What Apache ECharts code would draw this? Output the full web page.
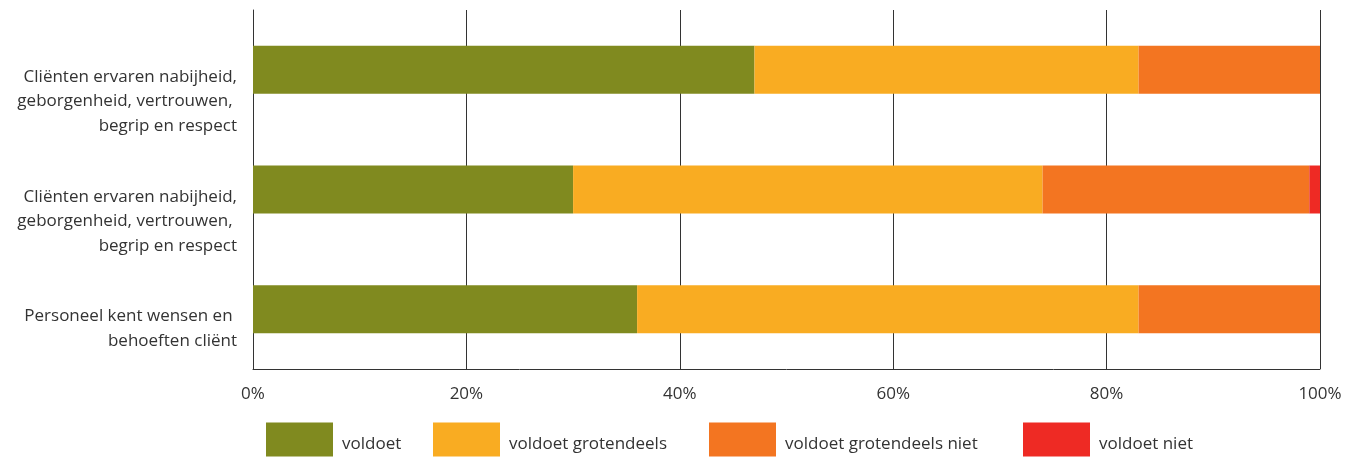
<!DOCTYPE html>
<html>
<head>
<meta charset="utf-8">
<script src="https://cdn.jsdelivr.net/npm/echarts@6/dist/echarts.min.js"></script>
<style>
html,body{margin:0;padding:0;background:#fff;}
#chart{width:1359px;height:457px;}
</style>
</head>
<body>
<div id="chart"></div>
<script>
const categories = [
  'Cliënten ervaren nabijheid,\ngeborgenheid, vertrouwen, \nbegrip en respect',
  'Cliënten ervaren nabijheid,\ngeborgenheid, vertrouwen, \nbegrip en respect',
  'Personeel kent wensen en \nbehoeften cliënt'
];
const seriesNames = ['voldoet', 'voldoet grotendeels', 'voldoet grotendeels niet', 'voldoet niet'];
const voldoet = [47, 30, 36];
const grotendeels = [36, 44, 47];
const grotendeelsNiet = [17, 25, 17];
const niet = [0, 1, 0];
const colors = ['#808a1f', '#f9ac22', '#f37521', '#ee2a24'];
const xTicks = [0, 20, 40, 60, 80, 100];

const values = [voldoet, grotendeels, grotendeelsNiet, niet];
const legendLeft = [266, 433, 709, 1023];
const font = '"Open Sans", sans-serif';

const chart = echarts.init(document.getElementById('chart'));
chart.setOption({
  animation: false,
  color: colors,
  grid: {left: 253, right: 39, top: 10, bottom: 88, containLabel: false},
  xAxis: {
    type: 'value', min: 0, max: 100, interval: 20,
    axisLine: {show: true, lineStyle: {color: '#333', width: 1}},
    axisTick: {show: false},
    splitLine: {show: true, lineStyle: {color: '#333', width: 1}},
    axisLabel: {formatter: '{value}%', color: '#333', fontSize: 17, fontFamily: font, margin: 17}
  },
  yAxis: {
    type: 'category', data: categories, inverse: true,
    axisLine: {show: true, lineStyle: {color: '#333', width: 1}},
    axisTick: {show: false},
    axisLabel: {color: '#333', fontSize: 17, fontFamily: font, align: 'right', verticalAlign: 'top',
      lineHeight: 24.5, margin: 16, padding: [-5, 0, 0, 0]}
  },
  legend: seriesNames.map((n, i) => ({
    data: [n], left: legendLeft[i], top: 421, padding: 0, itemWidth: 67, itemHeight: 34, itemGap: 0,
    icon: 'rect',
    formatter: name => '{s|}\n{t|' + name + '}',
    textStyle: {color: '#333', fontSize: 17, fontFamily: font, padding: [0, 0, 0, 4],
      rich: {s: {lineHeight: 10, fontSize: 17, fontFamily: font},
             t: {lineHeight: 20, fontSize: 17, fontFamily: font, color: '#333'}}}
  })),
  series: seriesNames.map((n, i) => ({
    name: n, type: 'bar', stack: 'total', data: values[i], barWidth: 48,
    itemStyle: {color: colors[i]}
  }))
});
</script>
</body>
</html>
